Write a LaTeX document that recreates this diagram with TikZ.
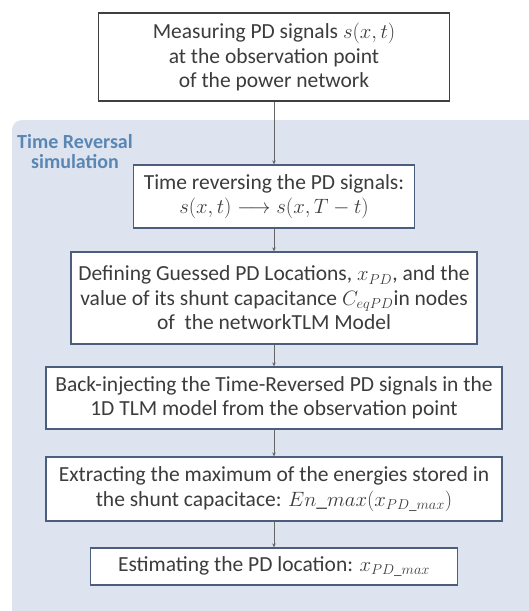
\documentclass[tikz,border=0pt]{standalone}
\usepackage{amsmath}
\usepackage{fontspec}
\setmainfont{Carlito}
\usetikzlibrary{arrows.meta}

\definecolor{simbg}{HTML}{DDE3EF}
\definecolor{simblue}{HTML}{5A86B4}
\definecolor{boxedge}{HTML}{4B5E7E}
\definecolor{txtgray}{HTML}{3C3C3C}

\begin{document}
\begin{tikzpicture}[x={(1pt,0pt)}, y={(0pt,-1pt)}, >={Stealth[length=4pt,width=3.5pt]},
        stepbox/.style={draw=boxedge, line width=1.3pt, fill=white, align=center,
            text=txtgray, inner sep=0pt, font=\fontsize{21.5}{24.5}\selectfont},
        flowarrow/.style={->, draw=gray!80!black, line width=0.6pt}]
        \useasboundingbox (0,0) rectangle (529,611);
        \fill[simbg, rounded corners=10pt] (12,120) rectangle (545,625);
        \node[simblue, font=\fontsize{20}{20}\selectfont\bfseries, align=center] (simlabel) at (75,152) {Time Reversal\\simulation};
        \node[stepbox, draw=black!75, line width=1.6pt, minimum width=351pt, minimum height=88pt] (measure) at (274,57)
            {Measuring PD signals $s(x,t)$\\at the observation point\\of the power network};
        \node[stepbox, minimum width=281pt, minimum height=63pt] (reverse) at (274,196.5)
            {Time reversing the PD signals:\\$s(x,t)\longrightarrow s(x,T-t)$};
        \node[stepbox, minimum width=406pt, minimum height=92pt] (guess) at (274,298)
            {Defining Guessed PD Locations, $x_{PD}$, and the\\value of its shunt capacitance $C_{eqPD}$in nodes\\of\ \ the networkTLM Model};
        \node[stepbox, minimum width=456pt, minimum height=62pt] (inject) at (274,398)
            {Back-injecting the Time-Reversed PD signals in the\\1D TLM model from the observation point};
        \node[stepbox, minimum width=456pt, minimum height=64pt] (energy) at (274,489)
            {Extracting the maximum of the energies stored in\\the shunt capacitace: $En\_max(x_{PD\_max})$};
        \node[stepbox, minimum width=367pt, minimum height=37pt] (locate) at (274,566.5)
            {Estimating the PD location: $x_{PD\_max}$};
        \foreach \a/\b in {measure/reverse, reverse/guess, guess/inject, inject/energy, energy/locate}
            \draw[flowarrow] (\a) -- (\b);
    \end{tikzpicture}
\end{document}
